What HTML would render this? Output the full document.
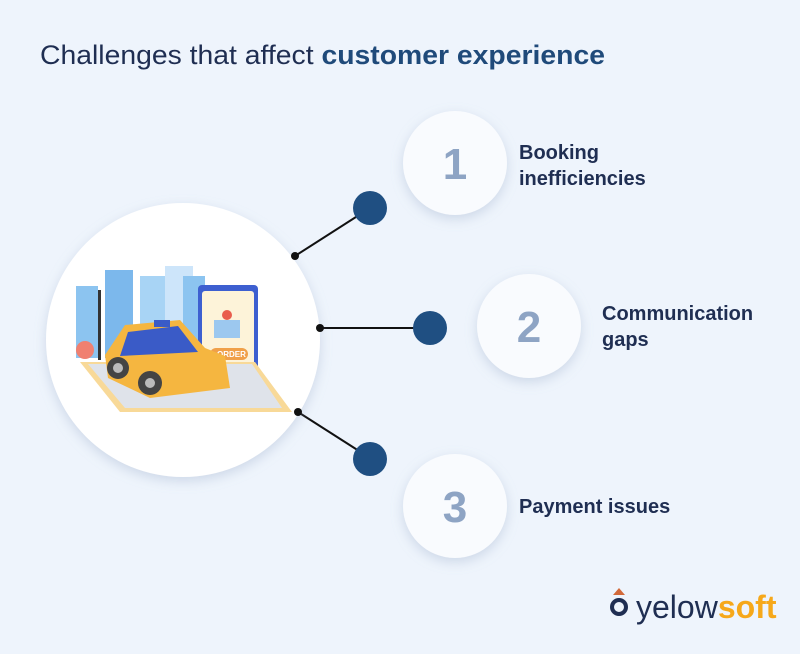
<!DOCTYPE html>
<html><head><meta charset="utf-8"><style>
html,body{margin:0;padding:0;background:#eef4fc;}
svg{display:block}
text{font-family:"Liberation Sans",sans-serif}
</style></head><body>
<svg width="800" height="654" viewBox="0 0 800 654" xmlns="http://www.w3.org/2000/svg">
<defs>
<filter id="sh" x="-30%" y="-30%" width="160%" height="160%"><feDropShadow dx="0" dy="4" stdDeviation="6" flood-color="#8fa3c0" flood-opacity="0.35"/></filter>
</defs>
<rect width="800" height="654" fill="#eef4fc"/>
<text x="40" y="64" font-size="27" fill="#1f2e52" textLength="565" lengthAdjust="spacingAndGlyphs">Challenges that affect <tspan font-weight="bold" fill="#1f4a7a">customer experience</tspan></text>

<!-- connectors -->
<g stroke="#111" stroke-width="2">
<line x1="295" y1="256" x2="370" y2="208"/>
<line x1="320" y1="328" x2="430" y2="328"/>
<line x1="298" y1="412" x2="370" y2="458"/>
</g>

<!-- big circle -->
<circle cx="183" cy="340" r="137" fill="#fff" filter="url(#sh)"/>
<!-- illustration -->
<g>
<rect x="76" y="286" width="22" height="72" fill="#8cc4f0"/>
<rect x="105" y="270" width="28" height="88" fill="#7cb8ec"/>
<rect x="140" y="276" width="28" height="82" fill="#a8d4f5"/>
<rect x="165" y="266" width="28" height="92" fill="#cde5fa"/>
<rect x="183" y="276" width="22" height="82" fill="#8cc4f0"/>
<rect x="198" y="285" width="60" height="102" rx="4" fill="#3d5fd0"/>
<rect x="202" y="291" width="52" height="92" rx="3" fill="#fdf3d9"/>
<circle cx="227" cy="315" r="5" fill="#e95d4d"/>
<rect x="214" y="320" width="26" height="18" fill="#9cc8ef"/>
<rect x="210" y="348" width="38" height="12" rx="6" fill="#f0a049"/>
<text x="217" y="357" font-size="8" font-weight="bold" fill="#fff">ORDER</text>
<polygon points="80,362 255,362 292,412 120,412" fill="#f8d998"/>
<polygon points="88,364 252,364 282,408 125,408" fill="#dfe3ea"/>
<circle cx="85" cy="350" r="9" fill="#f08070"/>
<rect x="98" y="290" width="3" height="70" fill="#333"/>
<path d="M105 355 L125 325 L180 320 L205 348 L225 356 L230 388 L150 398 L108 378 Z" fill="#f5b640"/>
<path d="M128 332 L178 326 L198 352 L120 356 Z" fill="#3a5bc7"/>
<rect x="154" y="320" width="16" height="7" fill="#3a5bc7"/>
<circle cx="118" cy="368" r="11" fill="#444"/><circle cx="118" cy="368" r="5" fill="#bbb"/>
<circle cx="150" cy="383" r="12" fill="#444"/><circle cx="150" cy="383" r="5" fill="#bbb"/>
</g>

<!-- dark dots -->
<g fill="#1f4f82">
<circle cx="370" cy="208" r="17"/>
<circle cx="430" cy="328" r="17"/>
<circle cx="370" cy="459" r="17"/>
</g>
<g fill="#111">
<circle cx="295" cy="256" r="4"/>
<circle cx="320" cy="328" r="4"/>
<circle cx="298" cy="412" r="4"/>
</g>

<!-- number circles -->
<g filter="url(#sh)" fill="#f9fbfe">
<circle cx="455" cy="163" r="52"/>
<circle cx="529" cy="326" r="52"/>
<circle cx="455" cy="506" r="52"/>
</g>
<g font-size="44" font-weight="bold" fill="#8ea4c4" text-anchor="middle">
<text x="455" y="179">1</text>
<text x="529" y="342">2</text>
<text x="455" y="522">3</text>
</g>
<g font-size="20" font-weight="bold" fill="#1f2e52">
<text x="519" y="159">Booking</text>
<text x="519" y="185">inefficiencies</text>
<text x="602" y="320">Communication</text>
<text x="602" y="346">gaps</text>
<text x="519" y="513">Payment issues</text>
</g>

<!-- logo -->
<polygon points="613,595 619,588 625,595" fill="#d2693a"/>
<circle cx="619" cy="607" r="7" fill="none" stroke="#1f2e52" stroke-width="4"/>
<text x="636" y="618" font-size="32" fill="#1f2e52">yelow<tspan fill="#f6a81a" font-weight="bold">soft</tspan></text>
</svg>
</body></html>
